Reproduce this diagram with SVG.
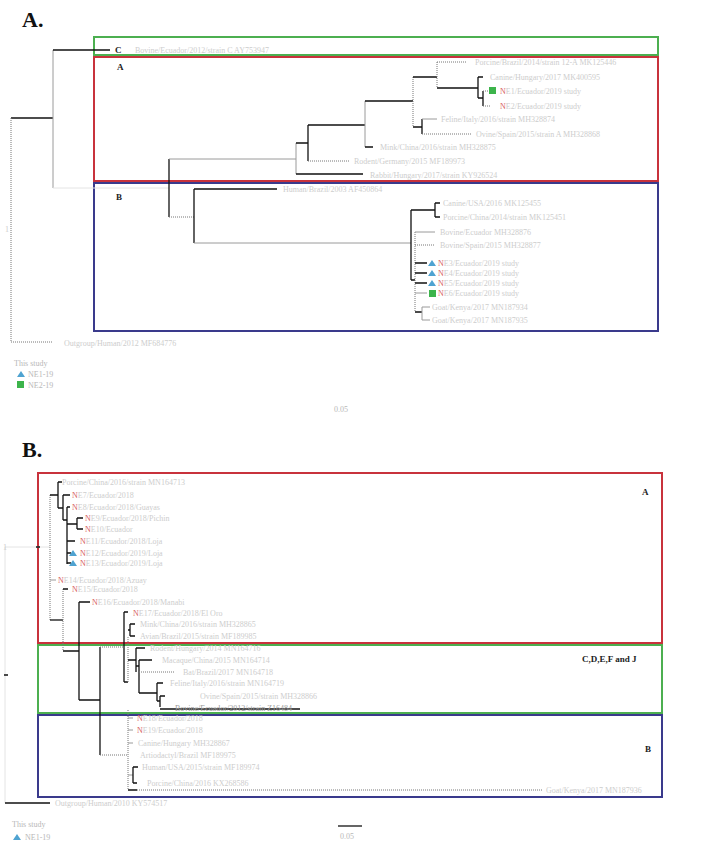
<svg xmlns="http://www.w3.org/2000/svg" width="701" height="850" viewBox="0 0 701 850">
<style>
.bg{fill:#fff}
.ttl{font-family:"Liberation Serif",serif;font-weight:bold;font-size:22px;fill:#111}
.cl{font-family:"Liberation Serif",serif;font-weight:bold;font-size:9px;fill:#222}
.lf{font-family:"Liberation Serif",serif;font-size:8px;fill:#cdcdcd}
.st{fill:#d86060}
.lg{font-family:"Liberation Serif",serif;font-size:8px;fill:#b8b8b8}
.b{stroke:#111;stroke-width:1.3;fill:none}
.g{stroke:#9a9a9a;stroke-width:1;fill:none}
.f{stroke:#e4e4e4;stroke-width:1;fill:none}
.d{stroke:#777;stroke-width:1;stroke-dasharray:1 1;fill:none}
.bx{fill:none;stroke-width:2}
.red{stroke:#c8323c}
.grn{stroke:#4caf50}
.blu{stroke:#3a3a8c}
.tri{fill:#4fa3d1}
.sq{fill:#3cb44b}
</style>
<rect class="bg" x="0" y="0" width="701" height="850"/>

<!-- Panel A -->
<text class="ttl" x="22" y="27">A.</text>
<g id="A-clade-boxes">
<rect class="bx grn" x="94" y="37" width="564" height="18"/>
<rect class="bx red" x="94" y="57" width="564" height="124"/>
<rect class="bx blu" x="94" y="183" width="564" height="148"/>
<text class="cl" x="115" y="53">C</text>
<text class="cl" x="117" y="70">A</text>
<text class="cl" x="116" y="200">B</text>
</g>

<g id="A-connectors">
<path class="b" d="M11 118H53"/>
<path class="d" d="M11 118V342H52"/>
<path class="g" d="M53 50V188"/>
<path class="b" d="M53 50H110"/>
<path class="f" d="M53 188H169"/>
<path class="b" d="M169 159V217"/>
<path class="g" d="M169 159H296"/>
<path class="g" d="M296 143V174"/>
<path class="b" d="M296 143H308M296 174H363"/>
<path class="b" d="M308 125V161"/>
<path class="d" d="M308 161H350"/>
<path class="b" d="M308 125H365"/>
<path class="g" d="M365 101V147"/>
<path class="b" d="M365 147H373M365 101H413"/>
<path class="d" d="M413 77V127"/>
<path class="b" d="M413 77H437M413 127H422M422 119V134"/>
<path class="g" d="M422 119H437"/>
<path class="d" d="M422 134H472"/>
<path class="d" d="M437 62V88M437 62H467"/>
<path class="b" d="M437 88H478M478 77V98M478 77H483M478 98H483M483 91V106"/>
<path class="d" d="M483 91H489M483 106H490"/>
<path class="d" d="M169 217H194"/>
<path class="b" d="M194 189V243M194 189H277"/>
<path class="g" d="M194 243H411"/>
<path class="b" d="M411 210V280M411 210H435M435 203V217M435 203H440M435 217H440M411 280H415"/>
<path class="d" d="M415 232V312"/>
<path class="g" d="M415 232H435M415 293H427"/>
<path class="d" d="M415 245H435"/>
<path class="b" d="M415 263H427M415 273H427M415 283H427M415 312H422"/>
<path class="g" d="M422 307V320M422 307H430M422 320H430"/>
</g>

<g id="A-leaves">
<text class="lf" x="135" y="53">Bovine/Ecuador/2012/strain C  AY753947</text>
<text class="lf" x="475" y="65">Porcine/Brazil/2014/strain 12-A  MK125446</text>
<text class="lf" x="490" y="80">Canine/Hungary/2017  MK400595</text>
<g id="A-study1"><rect class="sq" x="489" y="87" width="7" height="7"/><text class="lf" x="500" y="94"><tspan class="st">N</tspan>E1/Ecuador/2019  study</text></g>
<text class="lf" x="500" y="109"><tspan class="st">N</tspan>E2/Ecuador/2019  study</text>
<text class="lf" x="441" y="122">Feline/Italy/2016/strain  MH328874</text>
<text class="lf" x="476" y="137">Ovine/Spain/2015/strain A  MH328868</text>
<text class="lf" x="380" y="150">Mink/China/2016/strain  MH328875</text>
<text class="lf" x="354" y="164">Rodent/Germany/2015  MF189973</text>
<text class="lf" x="370" y="178">Rabbit/Hungary/2017/strain  KY926524</text>
<text class="lf" x="283" y="192">Human/Brazil/2003  AF450864</text>
<text class="lf" x="443" y="206">Canine/USA/2016  MK125455</text>
<text class="lf" x="443" y="220">Porcine/China/2014/strain  MK125451</text>
<text class="lf" x="440" y="235">Bovine/Ecuador  MH328876</text>
<text class="lf" x="440" y="248">Bovine/Spain/2015  MH328877</text>
<g id="A-study2"><path class="tri" d="M432 260L436 266H428Z"/><text class="lf" x="438" y="266"><tspan class="st">N</tspan>E3/Ecuador/2019 study</text></g>
<g id="A-study3"><path class="tri" d="M432 270L436 276H428Z"/><text class="lf" x="438" y="276"><tspan class="st">N</tspan>E4/Ecuador/2019 study</text></g>
<g id="A-study4"><path class="tri" d="M432 280L436 286H428Z"/><text class="lf" x="438" y="286"><tspan class="st">N</tspan>E5/Ecuador/2019 study</text></g>
<g id="A-study5"><rect class="sq" x="429" y="290" width="7" height="7"/><text class="lf" x="438" y="296"><tspan class="st">N</tspan>E6/Ecuador/2019 study</text></g>
<text class="lf" x="432" y="310">Goat/Kenya/2017  MN187934</text>
<text class="lf" x="432" y="323">Goat/Kenya/2017  MN187935</text>
<text class="lf" x="64" y="346">Outgroup/Human/2012  MF684776</text>
</g>

<g id="A-legend">
<text class="lf" x="5" y="232">1</text>
<text class="lg" x="14" y="366">This study</text>
<path class="tri" d="M21 371L25 377H17Z"/><text class="lg" x="28" y="377">NE1-19</text>
<rect class="sq" x="17" y="381" width="7" height="7"/><text class="lg" x="28" y="388">NE2-19</text>
<text class="lg" x="334" y="412">0.05</text>
</g>

<!-- Panel B -->
<text class="ttl" x="22" y="457">B.</text>
<g id="B-clade-boxes">
<rect class="bx red" x="38" y="473" width="624" height="170"/>
<rect class="bx grn" x="38" y="645" width="624" height="68"/>
<rect class="bx blu" x="38" y="715" width="624" height="82"/>
<text class="cl" x="642" y="495">A</text>
<text class="cl" x="582" y="662">C,D,E,F and J</text>
<text class="cl" x="645" y="752">B</text>
</g>

<g id="B-connectors">
<path class="f" d="M5 547V803M5 547H50"/>
<path class="b" d="M4 675H8M36 547H40"/>
<path class="b" d="M5 803H50"/>
<path class="d" d="M50 495V620"/>
<path class="b" d="M50 495H58M58 482V508M58 482H62M58 508H63"/>
<path class="b" d="M63 495V520M63 495H70M63 520H67"/>
<path class="b" d="M67 507V564M67 507H70M67 524H77M77 518V529M77 518H83M77 529H83"/>
<path class="b" d="M67 541H75M67 553H71M67 563H71"/>
<path class="g" d="M50 580H56"/>
<path class="b" d="M50 620H63"/>
<path class="d" d="M63 589V651"/>
<path class="b" d="M63 589H68M63 651H79"/>
<path class="b" d="M79 602V700M79 602H90M79 700H100"/>
<path class="b" d="M100 647V755"/>
<path class="d" d="M100 647H124M100 755H128"/>
<path class="b" d="M124 612V682M124 612H128M124 682H128"/>
<path class="b" d="M128 630H130M130 624V636M130 624H135M130 636H135"/>
<path class="d" d="M128 637V682"/>
<path class="b" d="M128 660H136M136 648V672M136 648H145"/>
<path class="b" d="M136 666H139M139 660V693M139 660H152"/>
<path class="d" d="M139 672H175"/>
<path class="b" d="M139 693H157M157 683V701M157 683H163M157 701H160M160 696V707M160 696H165"/>
<path class="b" d="M160 709H300"/>
<path class="d" d="M128 710V790"/>
<path class="g" d="M128 718H133M128 730H133M128 743H133M128 775H133"/>
<path class="b" d="M133 767V783M133 767H138M133 783H137M128 790H137"/>
<path class="d" d="M137 790H543"/>
</g>

<g id="B-leaves">
<text class="lf" x="62" y="485">Porcine/China/2016/strain  MN164713</text>
<text class="lf" x="72" y="498"><tspan class="st">N</tspan>E7/Ecuador/2018</text>
<text class="lf" x="72" y="510"><tspan class="st">N</tspan>E8/Ecuador/2018/Guayas</text>
<text class="lf" x="85" y="521"><tspan class="st">N</tspan>E9/Ecuador/2018/Pichin</text>
<text class="lf" x="85" y="532"><tspan class="st">N</tspan>E10/Ecuador</text>
<text class="lf" x="80" y="544"><tspan class="st">N</tspan>E11/Ecuador/2018/Loja</text>
<g id="B-study1"><path class="tri" d="M73 550L77 556H69Z"/><text class="lf" x="80" y="556"><tspan class="st">N</tspan>E12/Ecuador/2019/Loja</text></g>
<g id="B-study2"><path class="tri" d="M73 560L77 566H69Z"/><text class="lf" x="80" y="566"><tspan class="st">N</tspan>E13/Ecuador/2019/Loja</text></g>
<text class="lf" x="58" y="583"><tspan class="st">N</tspan>E14/Ecuador/2018/Azuay</text>
<text class="lf" x="72" y="592"><tspan class="st">N</tspan>E15/Ecuador/2018</text>
<text class="lf" x="92" y="605"><tspan class="st">N</tspan>E16/Ecuador/2018/Manabi</text>
<text class="lf" x="133" y="616"><tspan class="st">N</tspan>E17/Ecuador/2018/El Oro</text>
<text class="lf" x="140" y="627">Mink/China/2016/strain  MH328865</text>
<text class="lf" x="140" y="639">Avian/Brazil/2015/strain  MF189985</text>
<text class="lf" x="150" y="651">Rodent/Hungary/2014  MN164716</text>
<text class="lf" x="162" y="663">Macaque/China/2015  MN164714</text>
<text class="lf" x="183" y="675">Bat/Brazil/2017  MN164718</text>
<text class="lf" x="170" y="686">Feline/Italy/2016/strain  MN164719</text>
<text class="lf" x="200" y="699">Ovine/Spain/2015/strain  MH328866</text>
<text class="lf" x="175" y="711" style="fill:#9a9a9a">Bovine/Ecuador/2012/strain  Z16484</text>
<text class="lf" x="137" y="721"><tspan class="st">N</tspan>E18/Ecuador/2018</text>
<text class="lf" x="137" y="733"><tspan class="st">N</tspan>E19/Ecuador/2018</text>
<text class="lf" x="138" y="746">Canine/Hungary  MH328867</text>
<text class="lf" x="140" y="758">Artiodactyl/Brazil  MF189975</text>
<text class="lf" x="142" y="770">Human/USA/2015/strain  MF189974</text>
<text class="lf" x="147" y="786">Porcine/China/2016  KX268586</text>
<text class="lf" x="546" y="793">Goat/Kenya/2017  MN187936</text>
<text class="lf" x="55" y="806">Outgroup/Human/2010  KY574517</text>
</g>

<g id="B-legend">
<text class="lf" x="3" y="550">1</text>
<text class="lg" x="12" y="827">This study</text>
<path class="tri" d="M17 834L21 840H13Z"/><text class="lg" x="25" y="840">NE1-19</text>
<path class="b" d="M338 826H362"/>
<text class="lg" x="340" y="839">0.05</text>
</g>
</svg>
